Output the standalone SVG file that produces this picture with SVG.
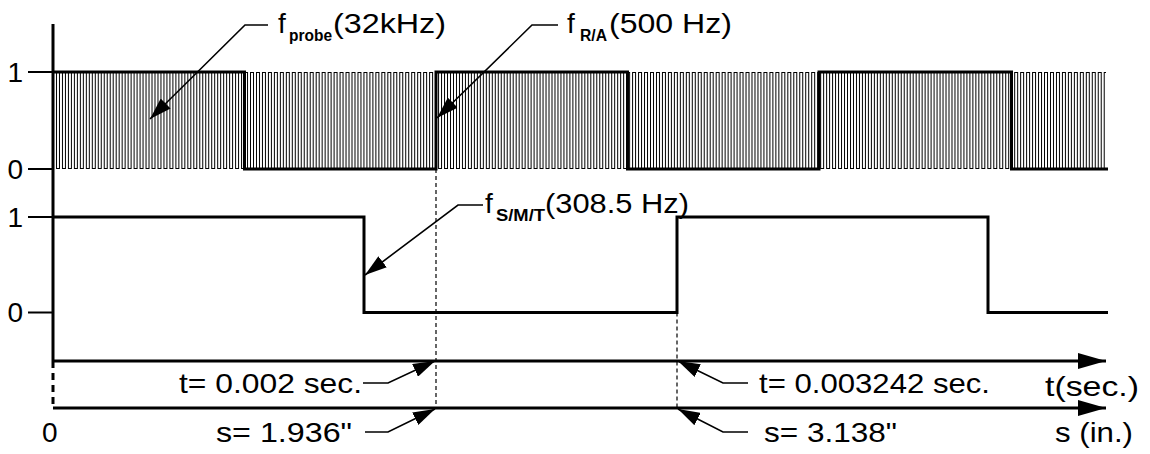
<svg xmlns="http://www.w3.org/2000/svg" width="1150" height="454" viewBox="0 0 1150 454">
<style>
text{font-family:"Liberation Sans",Arial,sans-serif;fill:#000}
.lbl{font-size:28px}
.sub{font-size:16px;font-weight:bold}
.wave{fill:none;stroke:#000;stroke-width:3}
.axis{fill:none;stroke:#000;stroke-width:3}
.tick{fill:none;stroke:#000;stroke-width:2}
.lead{fill:none;stroke:#000;stroke-width:1.6}
.dash{fill:none;stroke:#000;stroke-width:1.2;stroke-dasharray:4 3}
</style>
<defs>
<pattern id="probe" patternUnits="userSpaceOnUse" x="53" y="72" width="5.97" height="97">
<path d="M0.5,0 V97 M3.5,0 V97 M0.5,0.5 H3.5 M3.5,96.5 H5.97 M0,96.5 H0.5" fill="none" stroke="#000" stroke-width="1"/>
</pattern>
<marker id="ah" viewBox="0 0 22 14" refX="22" refY="7" markerWidth="22" markerHeight="14" orient="auto" markerUnits="userSpaceOnUse">
<path d="M0,0 L22,7 L0,14 z" fill="#000"/>
</marker>
<marker id="axh" viewBox="0 0 28 16" refX="28" refY="8" markerWidth="28" markerHeight="16" orient="auto" markerUnits="userSpaceOnUse">
<path d="M0,0 L28,8 L0,16 z" fill="#000"/>
</marker>
</defs>

<g id="probe-signal">
<rect x="53" y="72" width="1053" height="97" fill="url(#probe)"/>
</g>

<g id="ra-signal">
<path class="wave" d="M53,72 H244.5 V169 H436 V72 H627.5 V169 H819 V72 H1011.5 V169 H1108"/>
</g>

<g id="smt-signal">
<path class="wave" d="M53,217 H364 V312.5 H677 V217 H988 V312.5 H1108"/>
</g>

<g id="y-axis">
<path class="axis" d="M53,24 V361"/>
<path class="axis" d="M53,361 V408" stroke-dasharray="7 5"/>
<path class="tick" d="M28,72 H53 M28,169 H53 M28,217 H53 M28,312.5 H53"/>
<text class="lbl" x="23" y="82" text-anchor="end">1</text>
<text class="lbl" x="23" y="179" text-anchor="end">0</text>
<text class="lbl" x="23" y="227" text-anchor="end">1</text>
<text class="lbl" x="23" y="322" text-anchor="end">0</text>
<text class="lbl" x="42" y="442">0</text>
</g>

<g id="t-axis">
<path class="axis" d="M53,361 H1106" marker-end="url(#axh)"/>
<text class="lbl" x="1045" y="396" textLength="94" lengthAdjust="spacingAndGlyphs">t(sec.)</text>
</g>

<g id="s-axis">
<path class="axis" d="M53,408 H1106" marker-end="url(#axh)"/>
<text class="lbl" x="1055" y="442" textLength="78" lengthAdjust="spacingAndGlyphs">s (in.)</text>
</g>

<g id="label-probe">
<text class="lbl" x="278" y="33">f</text>
<text class="sub" x="289" y="41" textLength="43" lengthAdjust="spacingAndGlyphs">probe</text>
<text class="lbl" x="333" y="33" textLength="113" lengthAdjust="spacingAndGlyphs">(32kHz)</text>
</g>

<g id="label-ra">
<text class="lbl" x="567" y="33">f</text>
<text class="sub" x="580" y="41" textLength="27" lengthAdjust="spacingAndGlyphs">R/A</text>
<text class="lbl" x="609" y="33" textLength="123" lengthAdjust="spacingAndGlyphs">(500 Hz)</text>
</g>

<g id="label-smt">
<text class="lbl" x="485" y="213">f</text>
<text class="sub" x="496" y="221" textLength="49" lengthAdjust="spacingAndGlyphs">S/M/T</text>
<text class="lbl" x="545" y="213" textLength="144" lengthAdjust="spacingAndGlyphs">(308.5 Hz)</text>
</g>

<g id="label-t1">
<text class="lbl" x="179" y="393" textLength="183" lengthAdjust="spacingAndGlyphs">t= 0.002 sec.</text>
</g>
<g id="label-s1">
<text class="lbl" x="216" y="442" textLength="136" lengthAdjust="spacingAndGlyphs">s= 1.936"</text>
</g>
<g id="label-t2">
<text class="lbl" x="759" y="393" textLength="231" lengthAdjust="spacingAndGlyphs">t= 0.003242 sec.</text>
</g>
<g id="label-s2">
<text class="lbl" x="764" y="442" textLength="133" lengthAdjust="spacingAndGlyphs">s= 3.138"</text>
</g>

<g id="connectors">
<path class="dash" d="M436,169 V408"/>
<path class="dash" d="M677,312.5 V408"/>
<path class="lead" d="M268,25 H245 L150,119" marker-end="url(#ah)"/>
<path class="lead" d="M558,25 H532 L437,118" marker-end="url(#ah)"/>
<path class="lead" d="M483,205 H458 L365,275" marker-end="url(#ah)"/>
<path class="lead" d="M363,383 H388 L435,361" marker-end="url(#ah)"/>
<path class="lead" d="M365,432 H388 L435,409" marker-end="url(#ah)"/>
<path class="lead" d="M748,383 H723 L678,361" marker-end="url(#ah)"/>
<path class="lead" d="M748,432 H723 L678,409" marker-end="url(#ah)"/>
</g>
</svg>
